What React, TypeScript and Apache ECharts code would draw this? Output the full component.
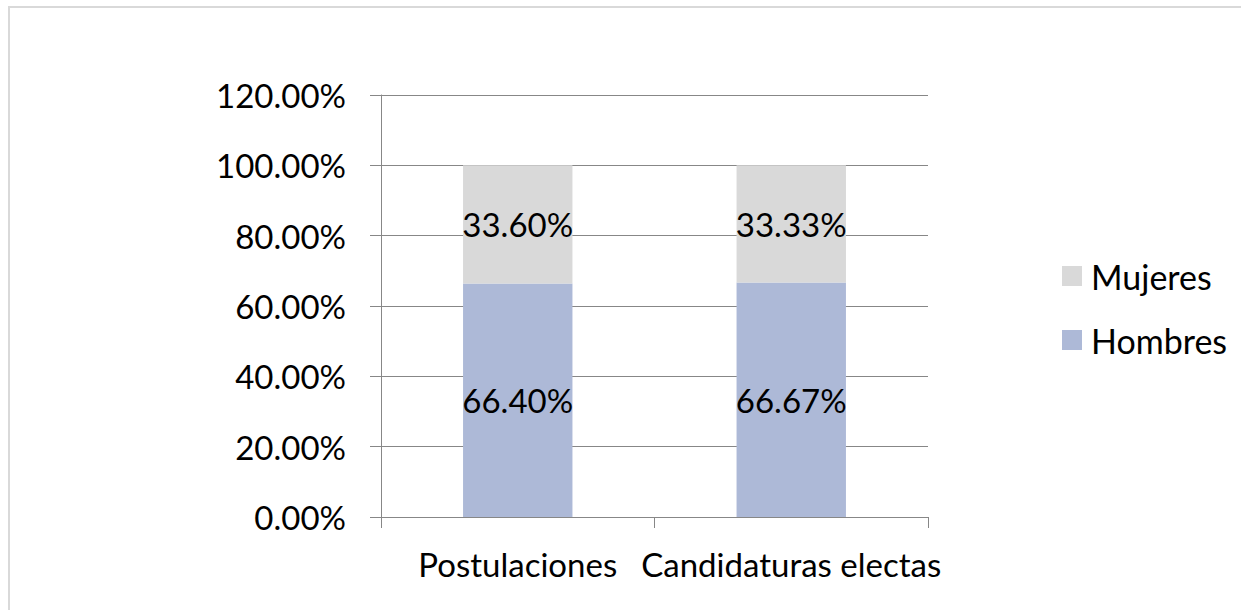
import React, { useEffect, useRef } from "react";
import * as echarts from "echarts";

const categories = ["Postulaciones", "Candidaturas electas"];
const hombres = [0.664, 0.6667];
const mujeres = [0.336, 0.3333];
const yTicks = { min: 0, max: 1.2, interval: 0.2 };

const FONT = "Lato";
const pct = (v: number) => (v * 100).toFixed(2) + "%";

export default function App() {
  const ref = useRef<HTMLDivElement>(null);
  useEffect(() => {
    if (!ref.current) return;
    const chart = echarts.init(ref.current, null, { renderer: "svg" });
    chart.setOption({
      animation: false,
      backgroundColor: "#ffffff",
      textStyle: { fontFamily: FONT },
      graphic: [
        {
          type: "rect",
          shape: { x: 9, y: 7, width: 1300, height: 700 },
          style: { fill: "none", stroke: "#d9d9d9", lineWidth: 2 },
          silent: true,
        },
      ],
      grid: { left: 381, top: 95, width: 547, height: 422, containLabel: false },
      legend: {
        orient: "vertical",
        left: 1062,
        top: 259,
        padding: 0,
        itemWidth: 20,
        itemHeight: 20,
        itemGap: 30,
        icon: "rect",
        data: ["Mujeres", "Hombres"],
        textStyle: { fontFamily: FONT, fontSize: 34, lineHeight: 34, color: "#000", padding: [0, 0, 0, 4] },
      },
      xAxis: {
        type: "category",
        data: categories,
        axisLine: { show: true, lineStyle: { color: "#878787", width: 1 } },
        axisTick: { show: true, length: 11, lineStyle: { color: "#878787" } },
        axisLabel: { fontFamily: FONT, fontSize: 33, color: "#000", margin: 30, interval: 0 },
      },
      yAxis: {
        type: "value",
        min: yTicks.min,
        max: yTicks.max,
        interval: yTicks.interval,
        axisLine: { show: true, lineStyle: { color: "#878787", width: 1 } },
        axisTick: { show: true, length: 11, lineStyle: { color: "#878787" } },
        splitLine: { show: true, lineStyle: { color: "#878787", width: 1 } },
        axisLabel: { fontFamily: FONT, fontSize: 33, color: "#000", margin: 35, formatter: pct },
      },
      series: [
        {
          name: "Hombres",
          type: "bar",
          stack: "total",
          barWidth: "40%",
          data: hombres,
          itemStyle: { color: "#adb9d7" },
          label: { show: true, position: "inside", formatter: (p: any) => pct(p.value), fontFamily: FONT, fontSize: 33, color: "#000" },
        },
        {
          name: "Mujeres",
          type: "bar",
          stack: "total",
          barWidth: "40%",
          data: mujeres,
          itemStyle: { color: "#d9d9d9" },
          label: { show: true, position: "inside", formatter: (p: any) => pct(p.value), fontFamily: FONT, fontSize: 33, color: "#000" },
        },
      ],
    });
    return () => chart.dispose();
  }, []);
  return <div ref={ref} style={{ position: "fixed", left: 0, top: 0, width: 1241, height: 610 }} />;
}
